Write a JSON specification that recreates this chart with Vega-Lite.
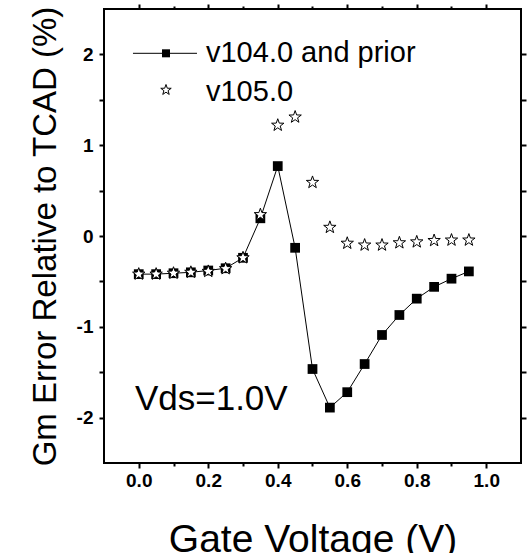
{
  "$schema": "https://vega.github.io/schema/vega-lite/v6.json",
  "width": 417,
  "height": 454,
  "autosize": {"type": "none"},
  "padding": {"left": 104, "top": 9, "right": 6, "bottom": 90},
  "config": {
    "view": {"stroke": "black", "strokeWidth": 2},
    "font": "Liberation Sans",
    "axis": {"domain": false, "grid": false, "zindex": 1, "labelColor": "black", "titleColor": "black"}
  },
  "datasets": {
    "v104": [
      {"x": 0.0, "y": -0.42}, {"x": 0.05, "y": -0.42}, {"x": 0.1, "y": -0.41}, {"x": 0.15, "y": -0.40},
      {"x": 0.2, "y": -0.38}, {"x": 0.25, "y": -0.355}, {"x": 0.3, "y": -0.24}, {"x": 0.35, "y": 0.195},
      {"x": 0.4, "y": 0.77}, {"x": 0.45, "y": -0.13}, {"x": 0.5, "y": -1.465}, {"x": 0.55, "y": -1.89},
      {"x": 0.6, "y": -1.72}, {"x": 0.65, "y": -1.41}, {"x": 0.7, "y": -1.09}, {"x": 0.75, "y": -0.87},
      {"x": 0.8, "y": -0.69}, {"x": 0.85, "y": -0.56}, {"x": 0.9, "y": -0.47}, {"x": 0.95, "y": -0.39}
    ],
    "v105": [
      {"x": 0.0, "y": -0.42}, {"x": 0.05, "y": -0.42}, {"x": 0.1, "y": -0.41}, {"x": 0.15, "y": -0.40},
      {"x": 0.2, "y": -0.39}, {"x": 0.25, "y": -0.36}, {"x": 0.3, "y": -0.24}, {"x": 0.35, "y": 0.235},
      {"x": 0.4, "y": 1.22}, {"x": 0.45, "y": 1.31}, {"x": 0.5, "y": 0.59}, {"x": 0.55, "y": 0.095},
      {"x": 0.6, "y": -0.08}, {"x": 0.65, "y": -0.10}, {"x": 0.7, "y": -0.10}, {"x": 0.75, "y": -0.075},
      {"x": 0.8, "y": -0.065}, {"x": 0.85, "y": -0.05}, {"x": 0.9, "y": -0.045}, {"x": 0.95, "y": -0.045}
    ],
    "legendLine": [{"x": -0.0166, "y": 2.012}, {"x": 0.1676, "y": 2.012}],
    "legendSquare": [{"x": 0.0784, "y": 2.012}],
    "legendStar": [{"x": 0.0784, "y": 1.608}],
    "legendText": [
      {"x": 0.1935, "y": 2.012, "label": "v104.0 and prior"},
      {"x": 0.1935, "y": 1.585, "label": "v105.0"}
    ],
    "note": [{"x": -0.011, "y": -1.916, "label": "Vds=1.0V"}]
  },
  "layer": [
    {
      "data": {"name": "v104"},
      "mark": {"type": "line", "color": "black", "strokeWidth": 1},
      "encoding": {
        "x": {
          "field": "x", "type": "quantitative",
          "scale": {"domain": [-0.1, 1.1], "nice": false, "zero": false},
          "axis": {
            "orient": "bottom",
            "values": [0, 0.2, 0.4, 0.6, 0.8, 1.0],
            "tickSize": 5, "ticks": true, "tickColor": "black", "tickWidth": 2,
            "format": ".1f",
            "labelFontSize": 19, "labelFontWeight": "bold", "labelPadding": 3,
            "title": "Gate Voltage (V)", "titleFontSize": 39, "titleFontWeight": "normal", "titlePadding": 30
          }
        },
        "y": {
          "field": "y", "type": "quantitative",
          "scale": {"domain": [-2.5, 2.5], "nice": false, "zero": false},
          "axis": {
            "orient": "left",
            "values": [-2, -1.5, -1, -0.5, 0, 0.5, 1, 1.5, 2],
            "tickSize": 5, "ticks": true, "tickColor": "black", "tickWidth": 2,
            "labelExpr": "datum.value%1==0 ? toString(datum.value) : ''",
            "labelFontSize": 19, "labelFontWeight": "bold", "labelPadding": 6,
            "title": "Gm Error Relative to TCAD (%)", "titleFontSize": 33, "titleFontWeight": "normal", "titlePadding": 14
          }
        }
      }
    },
    {
      "data": {"name": "v104"},
      "mark": {"type": "point", "shape": "square", "filled": true, "color": "black", "size": 95, "opacity": 1},
      "encoding": {
        "x": {"field": "x", "type": "quantitative",
          "axis": {"orient": "bottom", "values": [0.1, 0.3, 0.5, 0.7, 0.9], "tickSize": 3, "ticks": true, "tickColor": "black", "tickWidth": 2, "labels": false, "title": null}},
        "y": {"field": "y", "type": "quantitative", "axis": null}
      }
    },
    {
      "data": {"name": "v105"},
      "mark": {"type": "point", "shape": "M0,-1L0.235,-0.324L0.951,-0.309L0.380,0.124L0.588,0.809L0,0.4L-0.588,0.809L-0.380,0.124L-0.951,-0.309L-0.235,-0.324Z", "filled": true, "fill": "white", "stroke": "black", "strokeWidth": 1, "size": 169, "opacity": 1},
      "encoding": {
        "x": {
          "field": "x", "type": "quantitative",
          "axis": {"orient": "top", "values": [0, 0.2, 0.4, 0.6, 0.8, 1.0], "tickSize": 5, "ticks": true, "tickColor": "black", "tickWidth": 2, "labels": false, "title": null}
        },
        "y": {
          "field": "y", "type": "quantitative",
          "axis": {"orient": "right", "values": [-2, -1.5, -1, -0.5, 0, 0.5, 1, 1.5, 2], "tickSize": 5, "ticks": true, "tickColor": "black", "tickWidth": 2, "labels": false, "title": null}
        }
      }
    },
    {
      "data": {"name": "legendLine"},
      "mark": {"type": "line", "color": "black", "strokeWidth": 1},
      "encoding": {
        "x": {"field": "x", "type": "quantitative",
          "axis": {"orient": "top", "values": [0.1, 0.3, 0.5, 0.7, 0.9], "tickSize": 3, "ticks": true, "tickColor": "black", "tickWidth": 2, "labels": false, "title": null}},
        "y": {"field": "y", "type": "quantitative", "axis": null}
      }
    },
    {
      "data": {"name": "legendSquare"},
      "mark": {"type": "point", "shape": "square", "filled": true, "color": "black", "size": 64, "opacity": 1},
      "encoding": {
        "x": {"field": "x", "type": "quantitative", "axis": null},
        "y": {"field": "y", "type": "quantitative", "axis": null}
      }
    },
    {
      "data": {"name": "legendStar"},
      "mark": {"type": "point", "shape": "M0,-1L0.235,-0.324L0.951,-0.309L0.380,0.124L0.588,0.809L0,0.4L-0.588,0.809L-0.380,0.124L-0.951,-0.309L-0.235,-0.324Z", "filled": true, "fill": "white", "stroke": "black", "strokeWidth": 1, "size": 121, "opacity": 1},
      "encoding": {
        "x": {"field": "x", "type": "quantitative", "axis": null},
        "y": {"field": "y", "type": "quantitative", "axis": null}
      }
    },
    {
      "data": {"name": "legendText"},
      "mark": {"type": "text", "align": "left", "baseline": "middle", "fontSize": 29, "color": "black"},
      "encoding": {
        "x": {"field": "x", "type": "quantitative", "axis": null},
        "y": {"field": "y", "type": "quantitative", "axis": null},
        "text": {"field": "label"}
      }
    },
    {
      "data": {"name": "note"},
      "mark": {"type": "text", "align": "left", "baseline": "alphabetic", "fontSize": 35, "color": "black"},
      "encoding": {
        "x": {"field": "x", "type": "quantitative", "axis": null},
        "y": {"field": "y", "type": "quantitative", "axis": null},
        "text": {"field": "label"}
      }
    }
  ],
  "resolve": {"axis": {"x": "independent", "y": "independent"}}
}
